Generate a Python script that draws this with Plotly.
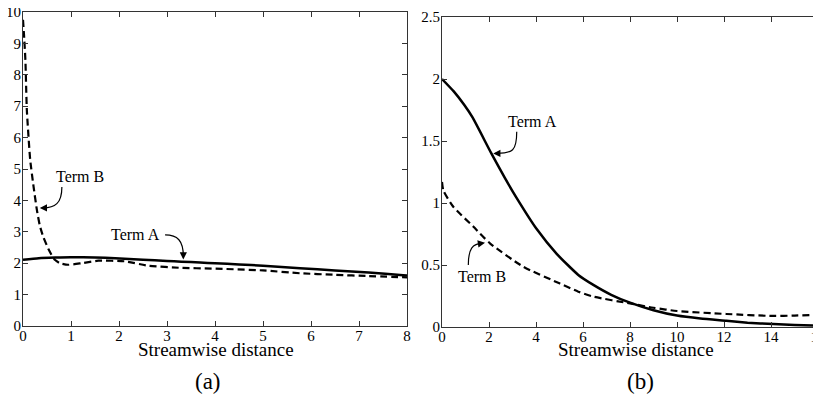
import plotly.graph_objects as go

# ---- Panel (a) data ----
a_termA_x = [0, 0.33, 0.67, 1.0, 1.5, 1.92, 2.5, 3.0, 3.3, 3.69, 4.0, 4.5, 5.0, 5.77, 6.5, 7.2, 7.92, 8.0]
a_termA_y = [2.11, 2.16, 2.18, 2.19, 2.18, 2.16, 2.11, 2.07, 2.05, 2.02, 2.0, 1.96, 1.92, 1.84, 1.77, 1.70, 1.62, 1.61]

a_termB_x = [0, 0.02, 0.05, 0.08, 0.15, 0.22, 0.29, 0.35, 0.42, 0.53, 0.6, 0.67, 0.77, 0.94, 1.22, 1.57, 2.12, 2.61, 3.3, 3.93, 5.0, 5.77, 6.5, 7.2, 8.0]
a_termB_y = [9.75, 9.3, 8.47, 6.88, 5.29, 4.44, 3.69, 3.2, 2.85, 2.45, 2.25, 2.1, 2.0, 1.95, 2.0, 2.08, 2.06, 1.92, 1.85, 1.83, 1.77, 1.68, 1.63, 1.59, 1.55]

a_xticks = [0, 1, 2, 3, 4, 5, 6, 7, 8]
a_yticks = [0, 1, 2, 3, 4, 5, 6, 7, 8, 9, 10]

# ---- Panel (b) data ----
b_termA_x = [0, 0.5, 0.95, 1.3, 2.1, 2.68, 3.18, 4.03, 4.88, 5.8, 6.44, 7.2, 8.0, 9.0, 10.0, 11.0, 12.1, 13.0, 14.1, 15.0, 16.0]
b_termA_y = [2.0, 1.9, 1.79, 1.69, 1.40, 1.2, 1.04, 0.79, 0.59, 0.42, 0.34, 0.26, 0.196, 0.135, 0.092, 0.068, 0.05, 0.035, 0.024, 0.017, 0.012]

b_termB_x = [0, 0.06, 0.48, 1.33, 2.04, 3.46, 5.02, 5.8, 6.44, 8.0, 9.0, 10.0, 12.1, 14.1, 15.0, 16.0]
b_termB_y = [1.17, 1.10, 0.97, 0.81, 0.675, 0.486, 0.35, 0.285, 0.245, 0.19, 0.155, 0.129, 0.105, 0.089, 0.092, 0.099]

b_xticks = [0, 2, 4, 6, 8, 10, 12, 14, 16]
b_yticks = [0, 0.5, 1, 1.5, 2, 2.5]

# page offset (html body margin) and figure size
OX, OY = 8, 8
W, H = 813, 393
FONT = "Liberation Serif"


def px_x(p):
    return (p - OX) / W


def px_y(p):
    return 1 - (p - OY) / H


fig = go.Figure()
fig.add_trace(go.Scatter(x=a_termA_x, y=a_termA_y, mode="lines",
                         line=dict(color="black", width=2.5, shape="spline", smoothing=0.6),
                         xaxis="x", yaxis="y", showlegend=False, hoverinfo="skip"))
fig.add_trace(go.Scatter(x=a_termB_x, y=a_termB_y, mode="lines",
                         line=dict(color="black", width=2.2, dash="7px,4px", shape="spline", smoothing=0.5),
                         xaxis="x", yaxis="y", showlegend=False, hoverinfo="skip"))
fig.add_trace(go.Scatter(x=b_termA_x, y=b_termA_y, mode="lines",
                         line=dict(color="black", width=2.5, shape="spline", smoothing=0.5),
                         xaxis="x2", yaxis="y2", showlegend=False, hoverinfo="skip"))
fig.add_trace(go.Scatter(x=b_termB_x, y=b_termB_y, mode="lines",
                         line=dict(color="black", width=2.2, dash="7px,4px", shape="spline", smoothing=0.6),
                         xaxis="x2", yaxis="y2", showlegend=False, hoverinfo="skip"))

axis_common = dict(showgrid=False, zeroline=False, showline=True, linecolor="#333", linewidth=1.2,
                   mirror="allticks", ticks="inside", ticklen=5, tickcolor="#333",
                   ticklabeloverflow="allow",
                   tickfont=dict(family=FONT, size=15, color="black"), automargin=False)

fig.update_layout(
    width=W, height=H, margin=dict(l=0, r=0, t=0, b=0),
    paper_bgcolor="white", plot_bgcolor="white",
    xaxis=dict(domain=[px_x(23), px_x(407)], range=[0, 8], tickvals=a_xticks, anchor="y",
               ticklabelstandoff=-4, **axis_common),
    yaxis=dict(domain=[px_y(326), px_y(12)], range=[0, 10], tickvals=a_yticks, anchor="x",
               ticklabelstandoff=-2, **axis_common),
    xaxis2=dict(domain=[px_x(442), px_x(818)], range=[0, 16], tickvals=b_xticks, anchor="y2",
                ticklabelstandoff=-4, **axis_common),
    yaxis2=dict(domain=[px_y(327), px_y(17)], range=[0, 2.5], tickvals=b_yticks, anchor="x2",
                ticklabelstandoff=-2, **axis_common),
)

# curved arrow stems
arrow_paths = [
    ("x", "y", "M 0.81,4.43 C 0.81,3.9 0.66,3.76 0.42,3.76"),
    ("x", "y", "M 2.96,2.9 C 3.22,2.9 3.34,2.72 3.34,2.22"),
    ("x2", "y2", "M 3.18,1.575 C 3.18,1.42 3.0,1.40 2.32,1.40"),
    ("x2", "y2", "M 1.12,0.5 C 1.12,0.63 1.3,0.675 1.72,0.675"),
]
for xr, yr, p in arrow_paths:
    fig.add_shape(type="path", path=p, xref=xr, yref=yr, line=dict(color="black", width=1.2))

# arrow heads
heads = [
    ("x", "y", 0.35, 3.76, 7, 0),
    ("x", "y", 3.34, 2.12, 0, -7),
    ("x2", "y2", 2.18, 1.40, 7, 0),
    ("x2", "y2", 1.83, 0.68, -6, 1),
]
for xr, yr, hx, hy, ax, ay in heads:
    fig.add_annotation(x=hx, y=hy, xref=xr, yref=yr, text="", showarrow=True, arrowhead=2,
                       arrowsize=1.2, arrowwidth=1.2, arrowcolor="black", ax=ax, ay=ay)

# labels
labels = [
    ("x", "y", 1.19, 4.75, "Term B"),
    ("x", "y", 2.35, 2.9, "Term A"),
    ("x2", "y2", 3.85, 1.656, "Term A"),
    ("x2", "y2", 1.72, 0.406, "Term B"),
]
for xr, yr, lx, ly, t in labels:
    fig.add_annotation(x=lx, y=ly, xref=xr, yref=yr, text=t, showarrow=False,
                       xanchor="center", yanchor="middle",
                       font=dict(family=FONT, size=16, color="black"))

# axis titles
for cx in (216, 636):
    fig.add_annotation(x=px_x(cx), y=px_y(349), xref="paper", yref="paper", text="Streamwise distance",
                       showarrow=False, xanchor="center", yanchor="middle",
                       font=dict(family=FONT, size=19, color="black"))

# captions
for cx, t in ((208, "(a)"), (640, "(b)")):
    fig.add_annotation(x=px_x(cx), y=px_y(381), xref="paper", yref="paper", text=t, showarrow=False,
                       xanchor="center", yanchor="middle",
                       font=dict(family=FONT, size=23, color="black"))

fig.write_html("out.html")
